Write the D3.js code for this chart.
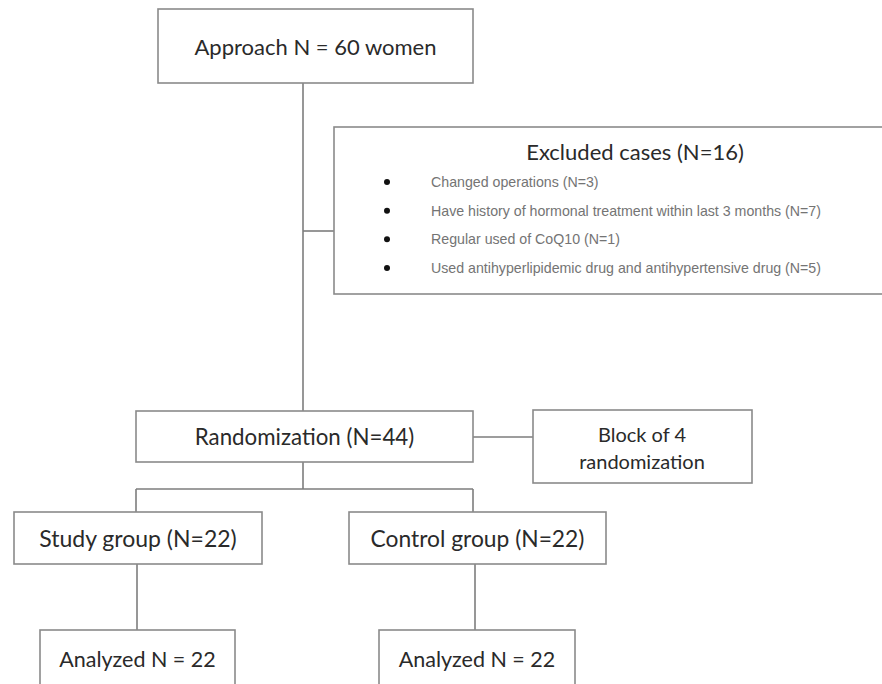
<!DOCTYPE html>
<html>
<head>
<meta charset="utf-8">
<script src="https://cdn.jsdelivr.net/npm/d3@7"></script>
<style>
  body { margin: 0; background: #fff; }
  svg { display: block; }
</style>
</head>
<body>
<div id="chart"></div>
<script>
// Flowchart texts
const stepLabels = ["Approach N = 60 women", "Randomization (N=44)", "Study group (N=22)", "Control group (N=22)", "Analyzed N = 22", "Analyzed N = 22"]
const excludedTitle = "Excluded cases (N=16)"
const excludedReasons = [
  "Changed operations (N=3)",
  "Have history of hormonal treatment within last 3 months (N=7)",
  "Regular used of CoQ10 (N=1)",
  "Used antihyperlipidemic drug and antihypertensive drug (N=5)"
]
const blockLines = ["Block of 4", "randomization"]

const width = 882
const height = 684

// box geometry [x0, y0, x1, y1]
const BOXES = {
  approach: [158, 9, 473, 83],
  excluded: [334, 127, 894, 294],
  random: [136, 411, 473, 462],
  block: [533, 410, 752, 483],
  study: [14, 512, 262, 564],
  control: [349, 512, 606, 564],
  analyzedA: [40, 630, 235, 694],
  analyzedB: [379, 630, 575, 694]
}

const LINE_COLOR = "#7d7d7d"
const TEXT_COLOR = "#2a2a2a"

const svg = d3.select("#chart")
  .append("svg")
  .attr("width", width)
  .attr("height", height)

// Connectors
const connectors = [
  [[303, 83], [303, 411]],
  [[303, 231], [334, 231]],
  [[473, 437], [533, 437]],
  [[303, 462], [303, 489]],
  [[136, 489], [473, 489]],
  [[136, 489], [136, 512]],
  [[473, 489], [473, 512]],
  [[137, 564], [137, 630]],
  [[475, 564], [475, 630]]
]

svg.append("g")
  .selectAll("path")
  .data(connectors)
  .join("path")
  .attr("d", d3.line())
  .attr("fill", "none")
  .attr("stroke", LINE_COLOR)
  .attr("stroke-width", 1.6)

// Boxes
const boxG = svg.append("g")
Object.entries(BOXES).forEach(([key, b]) => {
  boxG.append("rect")
    .attr("x", b[0])
    .attr("y", b[1])
    .attr("width", b[2] - b[0])
    .attr("height", b[3] - b[1])
    .attr("fill", "#fff")
    .attr("stroke", "#8a8a8a")
    .attr("stroke-width", 1.6)
})

// Main labels
const labelBoxes = ["approach", "random", "study", "control", "analyzedA", "analyzedB"]
const labelSizes = [22, 22.3, 23, 22.8, 21.5, 21.5]
const labelY = [55, 445, 547, 547, 667, 667]

svg.append("g")
  .selectAll("text")
  .data(stepLabels)
  .join("text")
  .attr("x", (d, i) => (BOXES[labelBoxes[i]][0] + BOXES[labelBoxes[i]][2]) / 2)
  .attr("y", (d, i) => labelY[i])
  .attr("text-anchor", "middle")
  .attr("font-family", "Lato, 'Open Sans', sans-serif")
  .attr("font-size", (d, i) => labelSizes[i])
  .attr("fill", TEXT_COLOR)
  .text(d => d)

// Block of 4
svg.append("g")
  .selectAll("text")
  .data(blockLines)
  .join("text")
  .attr("x", 642)
  .attr("y", (d, i) => 442 + i * 27)
  .attr("text-anchor", "middle")
  .attr("font-family", "Lato, 'Open Sans', sans-serif")
  .attr("font-size", 20)
  .attr("fill", TEXT_COLOR)
  .text(d => d)

// Excluded title
svg.append("text")
  .attr("x", 635)
  .attr("y", 160)
  .attr("text-anchor", "middle")
  .attr("font-family", "Lato, 'Open Sans', sans-serif")
  .attr("font-size", 22)
  .attr("fill", TEXT_COLOR)
  .text(excludedTitle)

// Reasons list
const y = d3.scalePoint()
  .domain(excludedReasons)
  .range([182, 268])

const items = svg.append("g")
  .selectAll("g")
  .data(excludedReasons)
  .join("g")
  .attr("transform", d => `translate(0,${y(d)})`)

items.append("circle")
  .attr("cx", 387)
  .attr("cy", 0)
  .attr("r", 3)
  .attr("fill", "#111")

items.append("text")
  .attr("x", 431)
  .attr("y", 5)
  .attr("font-family", "'Liberation Sans', Arial, sans-serif")
  .attr("font-size", 14.2)
  .attr("fill", "#747474")
  .text(d => d)
</script>
</body>
</html>
